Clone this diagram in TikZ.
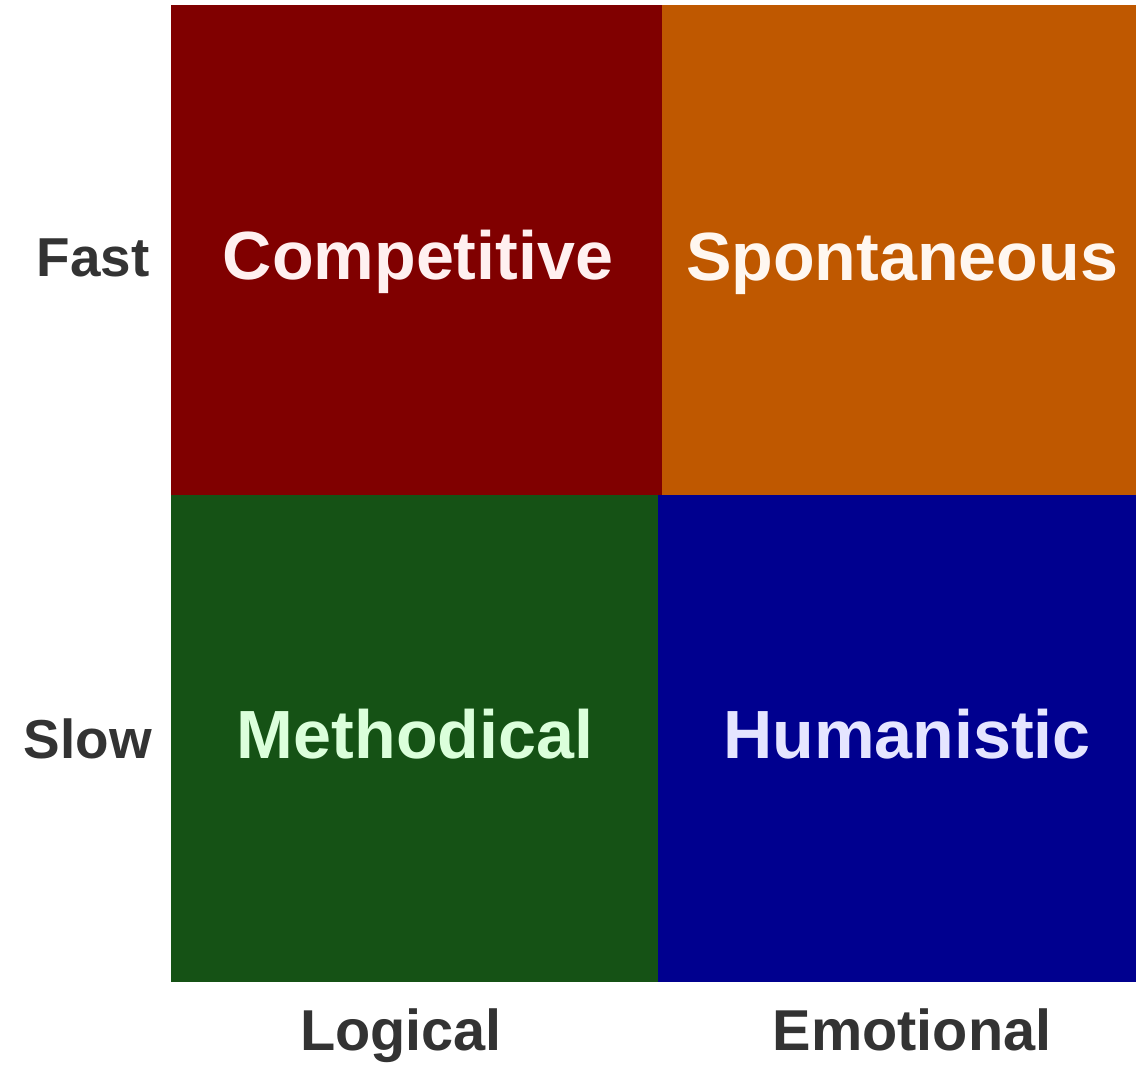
\documentclass[tikz,border=0pt]{standalone}
\usepackage{fontspec}
\setmainfont{Liberation Sans}
\usetikzlibrary{calc}
\definecolor{quadred}{HTML}{800000}
\definecolor{quadorange}{HTML}{BF5800}
\definecolor{quadgreen}{HTML}{155215}
\definecolor{quadblue}{HTML}{00008F}
\definecolor{axisgray}{HTML}{333333}
\tikzset{
	quadlabel/.style={font=\fontsize{48.5}{52}\selectfont\bfseries, text=white, inner sep=0pt, anchor=base},
	axislabel/.style={font=\fontsize{41}{45}\selectfont\bfseries, text=axisgray, inner sep=0pt, anchor=base}
}

\begin{document}
\begin{tikzpicture}[x=0.025cm, y=-0.025cm]
		%%%%% START %%%%%
		\useasboundingbox (0, 0) rectangle (1136, 1065);
		
		% the four quadrants
		\fill[quadred] (171, 5) rectangle (662, 495);
		\fill[quadorange] (662, 5) rectangle (1136, 495);
		\fill[quadgreen] (171, 495) rectangle (658, 982);
		\fill[quadblue] (658, 495) rectangle (1136, 982);
		
		\node[quadlabel, text=white!94!red] (competitive) at (418, 279) {Competitive};
		\node[quadlabel, text=white!94!orange] (spontaneous) at (902, 280) {Spontaneous};
		\node[quadlabel, text=white!86!green] (methodical) at (415, 758) {Methodical};
		\node[quadlabel, text=white!90!blue] (humanistic) at (907, 758) {Humanistic};
		
		% axes
		\node[axislabel, anchor=base east, font=\fontsize{39}{43}\selectfont\bfseries] (fast) at (150, 276) {Fast};
		\node[axislabel, anchor=base east, font=\fontsize{39}{43}\selectfont\bfseries] (slow) at (152, 758) {Slow};
		\node[axislabel] (logical) at (401, 1050) {Logical};
		\node[axislabel] (emotional) at (912, 1050) {Emotional};
		
		%%%%% END %%%%%
	\end{tikzpicture}
\end{document}
